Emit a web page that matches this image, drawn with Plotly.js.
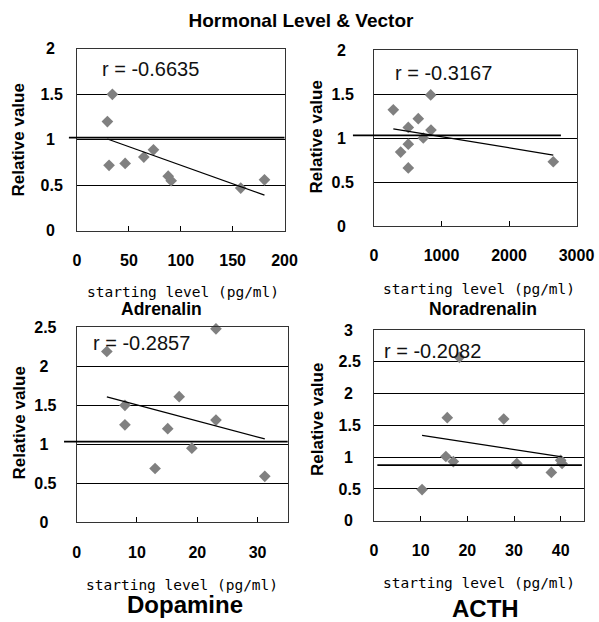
<!DOCTYPE html>
<html><head><meta charset="utf-8">
<script src="https://cdn.plot.ly/plotly-3.0.1.min.js"></script>
<style>html,body{margin:0;padding:0;background:#fff;} #chart{width:599px;height:622px;}</style>
</head><body><div id="chart"></div>
<script>
// ---------------- data ----------------
const chartTitle = 'Hormonal Level & Vector';
const xTitle = 'starting level (pg/ml)';
const yTitle = 'Relative value';
const panelNames = ['Adrenalin', 'Noradrenalin', 'Dopamine', 'ACTH'];
const rLabels = ['r = -0.6635', 'r = -0.3167', 'r = -0.2857', 'r = -0.2082'];

const adrenalinX = [34.1, 29.3, 30.9, 46.4, 64.4, 73.7, 87.9, 90.8, 157.8, 180.7];
const adrenalinY = [1.50, 1.20, 0.72, 0.74, 0.81, 0.89, 0.60, 0.55, 0.47, 0.56];
const noradrenalinX = [286, 395, 508, 508, 508, 656, 730, 840, 844, 2656];
const noradrenalinY = [1.32, 0.84, 1.12, 0.93, 0.66, 1.22, 1.00, 1.49, 1.09, 0.73];
const dopamineX = [5.0, 8.0, 8.0, 13.0, 15.1, 17.0, 19.1, 23.1, 23.1, 31.2];
const dopamineY = [2.19, 1.50, 1.25, 0.69, 1.20, 1.61, 0.95, 2.48, 1.31, 0.59];
const acthX = [10.3, 15.4, 15.7, 17.0, 18.3, 27.8, 30.6, 38.0, 40.0, 40.3];
const acthY = [0.49, 1.01, 1.62, 0.93, 2.57, 1.60, 0.90, 0.76, 0.95, 0.90];

const referenceLevels = [1.025, 1.03, 1.035, 0.875];

const xTicks1 = [0, 50, 100, 150, 200];
const xTicks2 = [0, 1000, 2000, 3000];
const xTicks3 = [0, 10, 20, 30];
const xTicks4 = [0, 10, 20, 30, 40];
const yTicks1 = [0, 0.5, 1, 1.5, 2];
const yTicks2 = [0, 0.5, 1, 1.5, 2];
const yTicks3 = [0, 0.5, 1, 1.5, 2, 2.5];
const yTicks4 = [0, 0.5, 1, 1.5, 2, 2.5, 3];
const xMax = [200, 3000, 35, 45];
const yMax = [2, 2, 2.5, 3];

// ---------------- layout helpers ----------------
const W = 599, H = 622;
const px = v => v / W;
const py = v => 1 - v / H;

const seriesX = [adrenalinX, noradrenalinX, dopamineX, acthX];
const seriesY = [adrenalinY, noradrenalinY, dopamineY, acthY];
const xTicks = [xTicks1, xTicks2, xTicks3, xTicks4];
const yTicks = [yTicks1, yTicks2, yTicks3, yTicks4];

// plot boxes in pixels
const boxes = [
  {l: 77, r: 284.5, t: 48.8, b: 230.8},
  {l: 374, r: 576.5, t: 50, b: 226},
  {l: 76.7, r: 287.7, t: 327.3, b: 522.3},
  {l: 374, r: 584, t: 330, b: 520.7}
];
const yLabelStandoff = [10, 16, 16, 9];
const refSpan = [[-0.039, 1], [-0.104, 0.923], [-0.06, 1], [0.016, 0.99]];
const yTitlePos = [[18.5, 140], [315.5, 137], [18.5, 423], [317, 420]];
const xTitlePos = [[182.5, 291.5], [478.5, 288.5], [182, 585], [479, 583]];
const namePos = [[161.5, 309], [483, 309], [185, 604], [485, 608]];
const nameSize = [17.5, 17.5, 24, 24];
const rPos = [[100, 69], [393, 73], [91, 343], [382, 351]];

function linearFit(xs, ys) {
  const n = xs.length;
  const mx = xs.reduce((a, b) => a + b, 0) / n;
  const my = ys.reduce((a, b) => a + b, 0) / n;
  let sxy = 0, sxx = 0;
  for (let i = 0; i < n; i++) { sxy += (xs[i] - mx) * (ys[i] - my); sxx += (xs[i] - mx) ** 2; }
  const slope = sxy / sxx;
  return {slope, intercept: my - slope * mx};
}

const tickFont = {family: 'Liberation Sans, Arial, sans-serif', size: 16, weight: 'bold', color: '#000'};
const traces = [];
const layout = {
  width: W, height: H,
  margin: {l: 0, r: 0, t: 0, b: 0},
  paper_bgcolor: '#fff', plot_bgcolor: '#fff',
  showlegend: false,
  shapes: [], annotations: []
};

for (let i = 0; i < 4; i++) {
  const k = i === 0 ? '' : String(i + 1);
  const xa = 'x' + k, ya = 'y' + k;
  const xs = seriesX[i], ys = seriesY[i];
  traces.push({
    type: 'scatter', mode: 'markers', x: xs, y: ys, xaxis: xa, yaxis: ya,
    cliponaxis: false,
    marker: {symbol: 'diamond', size: 9, color: '#808080'}
  });
  const fit = linearFit(xs, ys);
  const lo = Math.min(...xs), hi = Math.max(...xs);
  traces.push({
    type: 'scatter', mode: 'lines', x: [lo, hi],
    y: [fit.intercept + fit.slope * lo, fit.intercept + fit.slope * hi],
    xaxis: xa, yaxis: ya, line: {color: '#000', width: 1.3}
  });
  const b = boxes[i];
  layout['xaxis' + k] = {
    domain: [px(b.l), px(b.r)], anchor: ya, range: [0, xMax[i]],
    tickmode: 'array', tickvals: xTicks[i], ticktext: xTicks[i].map(String),
    ticks: 'inside', ticklen: 5, tickcolor: '#000', tickwidth: 1,
    showgrid: false, zeroline: false, showline: true, mirror: true,
    linecolor: '#333', linewidth: 1, tickfont: tickFont, ticklabelstandoff: 15,
    fixedrange: true
  };
  layout['yaxis' + k] = {
    domain: [py(b.b), py(b.t)], anchor: xa, range: [0, yMax[i]],
    tickmode: 'array', tickvals: yTicks[i],
    ticktext: yTicks[i].map(v => Number.isInteger(v) ? v + '\u2002' : String(v)),
    ticks: '', showgrid: true, gridcolor: '#000', gridwidth: 1,
    zeroline: false, showline: true, mirror: true, linecolor: '#333', linewidth: 1,
    tickfont: tickFont, ticklabelstandoff: yLabelStandoff[i], fixedrange: true
  };
  layout.shapes.push({
    type: 'line', xref: xa + ' domain', yref: ya,
    x0: refSpan[i][0], x1: refSpan[i][1], y0: referenceLevels[i], y1: referenceLevels[i],
    line: {color: '#000', width: 1.8}
  });
  layout.annotations.push(
    {text: rLabels[i], xref: 'paper', yref: 'paper', x: px(rPos[i][0]), y: py(rPos[i][1]),
     xanchor: 'left', yanchor: 'middle', showarrow: false,
     font: {family: 'Liberation Sans, Arial, sans-serif', size: 20, color: '#111'}},
    {text: yTitle, xref: 'paper', yref: 'paper', x: px(yTitlePos[i][0]), y: py(yTitlePos[i][1]),
     xanchor: 'center', yanchor: 'middle', textangle: -90, showarrow: false,
     font: {family: 'Liberation Sans, Arial, sans-serif', size: 17, weight: 'bold', color: '#000'}},
    {text: xTitle, xref: 'paper', yref: 'paper', x: px(xTitlePos[i][0]), y: py(xTitlePos[i][1]),
     xanchor: 'center', yanchor: 'middle', showarrow: false,
     font: {family: 'DejaVu Sans Mono, monospace', size: 14.5, color: '#000'}},
    {text: panelNames[i], xref: 'paper', yref: 'paper', x: px(namePos[i][0]), y: py(namePos[i][1]),
     xanchor: 'center', yanchor: 'middle', showarrow: false,
     font: {family: 'Liberation Sans, Arial, sans-serif', size: nameSize[i], weight: 'bold', color: '#000'}}
  );
}
layout.title = {
  text: chartTitle, x: px(301), xanchor: 'center', y: py(20), yanchor: 'middle',
  font: {family: 'Liberation Sans, Arial, sans-serif', size: 19, weight: 'bold', color: '#000'}
};

Plotly.newPlot('chart', traces, layout, {displayModeBar: false, staticPlot: true});
</script>
</body></html>
